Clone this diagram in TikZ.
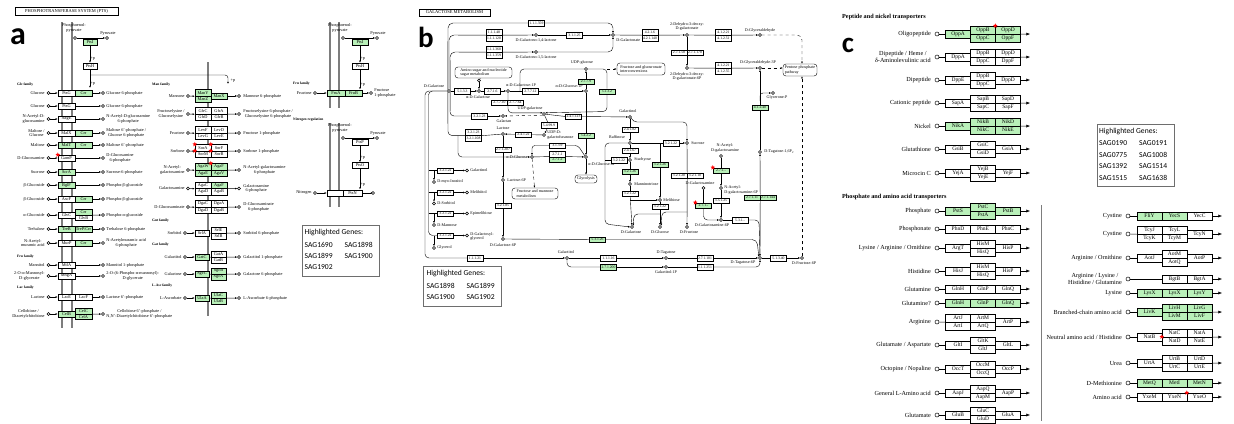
\documentclass[tikz,border=0pt]{standalone}
\usepackage{fontspec}
\setmainfont{Liberation Serif}
\newfontfamily\hgfont{Carlito}
\usetikzlibrary{arrows.meta,shapes.geometric}
\definecolor{kgreen}{RGB}{185,240,185}
\definecolor{mgray}{RGB}{125,125,125}
\definecolor{bgray}{RGB}{110,110,110}
\newcommand\ptsfont{\fontsize{4.3}{4.7}\selectfont}
\newcommand\galfont{\fontsize{4.1}{4.5}\selectfont}
\newcommand\ecfont{\fontsize{3.7}{4}\selectfont}
\newcommand\tspfont{\fontsize{6.2}{6.6}\selectfont}
\newcommand\tspboxfont{\fontsize{5.5}{6}\selectfont}
\newcommand\ttlfont{\fontsize{4.5}{5}\selectfont}
\newcommand\famfont{\fontsize{3.6}{4}\selectfont\bfseries}
\newcommand\hgsize{\hgfont\fontsize{7.6}{8}\selectfont}
\newcommand\letfont{\hgfont\bfseries\fontsize{32}{32}\selectfont}

\begin{document}
\begin{tikzpicture}[x=1pt, y=-1pt, line width=0.4pt,
  arr/.style={-{Latex[length=2.2pt,width=1.8pt]}},
  carr/.style={-{Latex[length=3.6pt,width=3pt]}},
  memb/.style={mgray, line width=1.3pt},
  gene/.style={draw, fill=white, inner sep=0, minimum width=17, minimum height=6, font=\ptsfont},
  hit/.style={gene, fill=kgreen},
  sgene/.style={gene, minimum width=16, minimum height=6.5},
  shit/.style={sgene, fill=kgreen},
  met/.style={circle, draw, fill=white, inner sep=0, minimum size=3},
  ptxt/.style={inner sep=0.2, font=\ptsfont, align=center},
  fam/.style={inner sep=0, font=\famfont, anchor=west},
  ebox/.style={draw, fill=white, inner sep=0, minimum width=16, minimum height=5.5, font=\ecfont},
  ehit/.style={ebox, fill=kgreen},
  btxt/.style={inner sep=0.2, font=\galfont, align=center},
  pbox/.style={draw, rounded corners=3, inner sep=1, align=left, font=\galfont},
  cbox/.style={draw, fill=white, inner sep=0, minimum width=25, minimum height=8, font=\tspboxfont},
  chit/.style={cbox, fill=kgreen},
  cmet/.style={circle, draw, fill=white, inner sep=0, minimum size=4, line width=0.5pt},
  clab/.style={anchor=east, inner sep=0, font=\tspfont, align=center},
  chead/.style={anchor=west, inner sep=0, font=\tspfont\bfseries},
  ttl/.style={draw, inner sep=0, font=\ttlfont},
  letter/.style={inner sep=0, font=\letfont},
  hgbox/.style={draw=bgray, line width=0.9pt, inner sep=0},
  hgtxt/.style={anchor=west, inner sep=0, font=\hgsize},
  rstar/.style={star, star points=5, star point ratio=2.4, fill=red, inner sep=0, minimum size=5}]
\useasboundingbox (0,0) rectangle (1234,423);

% ---------------- panel a: PTS ----------------
\node[ttl, minimum width=103, minimum height=8] (ptsTtl) at (66.5,11) {PHOSPHOTRANSFERASE SYSTEM (PTS)};
\node[letter] (letA) at (18,37) {a};
\draw[memb] (62,22) -- (62,328);
\draw[memb] (72,22) -- (72,328);
\draw[memb] (208,62) -- (208,316);
\draw[memb] (330,22) -- (330,108);
\draw[memb] (339,22) -- (339,108);
\draw[memb] (330,123) -- (330,207);
\draw[memb] (339,123) -- (339,207);

\node[ptxt] (pepL) at (74,28) {Phosphoenol-\\pyruvate};
\node[met] (pep) at (75,38) {};
\node[met] (pyr) at (107,38) {};
\node[ptxt, anchor=south] (pyrL) at (108,36) {Pyruvate};
\draw[arr] (pep) -- (pyr);
\node[hit, minimum width=14] (ptsI) at (90,42) {PtsI};
\node[gene, minimum width=14] (ptsH) at (90,66) {PtsH};
\draw[arr] (ptsI) -- node[ptxt, right, pos=0.75] (pA) {+p} (ptsH);
\coordinate (ptsHd) at (90,88);
\coordinate (ptsHb) at (90,75);
\coordinate (manP) at (228,84);
\draw[arr] (ptsH) -- node[ptxt, right, pos=0.8] (pB) {+p} (ptsHd);
\draw[arr, rounded corners=3] (ptsHb) -- (228,75) -- (manP);
\node[ptxt] (pC) at (233,81) {+p};

\node[fam] (glcF) at (17,85) {Glc family};
% rows
\node[ptxt, anchor=east] (r1s) at (45,93) {Glucose}; \node[met] (r1o) at (48.5,93) {};
\node[gene] (r1a) at (66.5,93) {PtsG}; \node[hit] (r1b) at (83.5,93) {Crr};
\node[met] (r1p) at (103,93) {}; \node[ptxt, anchor=west] (r1t) at (106,93) {Glucose 6-phosphate};
\draw[arr] (r1o) -- (r1a); \draw[arr] (r1b) -- (r1p);

\node[ptxt, anchor=east] (r2s) at (45,106) {Glucose}; \node[met] (r2o) at (48.5,106) {};
\node[gene] (r2a) at (66.5,106) {PtsG};
\node[met] (r2p) at (103,106) {}; \node[ptxt, anchor=west] (r2t) at (106,106) {Glucose 6-phosphate};
\draw[arr] (r2o) -- (r2a); \draw[arr] (r2a) -- (r2p);

\node[ptxt, anchor=east] (r3s) at (45,119) {N-Acetyl-D-\\glucosamine}; \node[met] (r3o) at (48.5,119) {};
\node[gene] (r3a) at (66.5,119) {NagE};
\node[met] (r3p) at (103,119) {}; \node[ptxt, anchor=west] (r3t) at (106,119) {N-Acetyl-D-glucosamine\\6-phosphate};
\draw[arr] (r3o) -- (r3a); \draw[arr] (r3a) -- (r3p);

\node[ptxt, anchor=east] (r4s) at (45,133) {Maltose /\\Glucose}; \node[met] (r4o) at (48.5,133) {};
\node[gene] (r4a) at (66.5,133) {MalX}; \node[hit] (r4b) at (83.5,133) {Crr};
\node[met] (r4p) at (103,133) {}; \node[ptxt, anchor=west] (r4t) at (106,133) {Maltose 6'-phosphate /\\Glucose 6-phosphate};
\draw[arr] (r4o) -- (r4a); \draw[arr] (r4b) -- (r4p);

\node[ptxt, anchor=east] (r5s) at (45,145) {Maltose}; \node[met] (r5o) at (48.5,145) {};
\node[hit] (r5a) at (66.5,145) {MalT}; \node[hit] (r5b) at (83.5,145) {Crr};
\node[met] (r5p) at (103,145) {}; \node[ptxt, anchor=west] (r5t) at (106,145) {Maltose 6'-phosphate};
\draw[arr] (r5o) -- (r5a); \draw[arr] (r5b) -- (r5p);

\node[ptxt, anchor=east] (r6s) at (45,158) {D-Glucosamine}; \node[met] (r6o) at (48.5,158) {};
\node[gene] (r6a) at (66.5,158) {GamP};
\node[met] (r6p) at (103,158) {}; \node[ptxt, anchor=west] (r6t) at (106,158) {D-Glucosamine\\6-phosphate};
\draw[arr] (r6o) -- (r6a); \draw[arr] (r6a) -- (r6p);
\node[rstar] (sA1) at (r6a.north west) {};

\node[ptxt, anchor=east] (r7s) at (45,172) {Sucrose}; \node[met] (r7o) at (48.5,172) {};
\node[hit] (r7a) at (66.5,172) {ScrA};
\node[met] (r7p) at (103,172) {}; \node[ptxt, anchor=west] (r7t) at (106,172) {Sucrose-6-phosphate};
\draw[arr] (r7o) -- (r7a); \draw[arr] (r7a) -- (r7p);

\node[ptxt, anchor=east] (r8s) at (45,185) {β-Glucoside}; \node[met] (r8o) at (48.5,185) {};
\node[hit] (r8a) at (66.5,185) {BglF};
\node[met] (r8p) at (103,185) {}; \node[ptxt, anchor=west] (r8t) at (106,185) {Phospho-β-glucoside};
\draw[arr] (r8o) -- (r8a); \draw[arr] (r8a) -- (r8p);

\node[ptxt, anchor=east] (r9s) at (45,199) {β-Glucoside}; \node[met] (r9o) at (48.5,199) {};
\node[gene] (r9a) at (66.5,199) {AscF}; \node[hit] (r9b) at (83.5,199) {Crr};
\node[met] (r9p) at (103,199) {}; \node[ptxt, anchor=west] (r9t) at (106,199) {Phospho-β-glucoside};
\draw[arr] (r9o) -- (r9a); \draw[arr] (r9b) -- (r9p);

\node[ptxt, anchor=east] (r10s) at (45,215) {α-Glucoside}; \node[met] (r10o) at (48.5,215) {};
\node[gene] (r10a) at (66.5,215) {GlvC};
\node[hit, minimum height=5.5] (r10b) at (83.5,212.2) {Crr}; \node[gene, minimum height=5.5] (r10bb) at (83.5,217.8) {GlvB};
\node[met] (r10p) at (103,215) {}; \node[ptxt, anchor=west] (r10t) at (106,215) {Phospho-α-glucoside};
\draw[arr] (r10o) -- (r10a); \draw[arr] (r10b.south east) -- (r10p);

\node[ptxt, anchor=east] (r11s) at (45,229) {Trehalose}; \node[met] (r11o) at (48.5,229) {};
\node[hit] (r11a) at (66.5,229) {TreB}; \node[hit] (r11b) at (83.5,229) {TreP/Crr};
\node[met] (r11p) at (103,229) {}; \node[ptxt, anchor=west] (r11t) at (106,229) {Trehalose 6-phosphate};
\draw[arr] (r11o) -- (r11a); \draw[arr] (r11b) -- (r11p);

\node[ptxt, anchor=east] (r12s) at (45,243) {N-Acetyl-\\muramic acid}; \node[met] (r12o) at (48.5,243) {};
\node[gene] (r12a) at (66.5,243) {MurP}; \node[hit] (r12b) at (83.5,243) {Crr};
\node[met] (r12p) at (103,243) {}; \node[ptxt, anchor=west] (r12t) at (106,243) {N-Acetylmuramic acid\\6-phosphate};
\draw[arr] (r12o) -- (r12a); \draw[arr] (r12b) -- (r12p);

\node[fam] (fruF) at (17,257) {Fru family};
\node[ptxt, anchor=east] (r13s) at (45,265) {Mannitol}; \node[met] (r13o) at (48.5,265) {};
\node[gene] (r13a) at (66.5,265) {MtlA};
\node[met] (r13p) at (103,265) {}; \node[ptxt, anchor=west] (r13t) at (106,265) {Mannitol 1-phosphate};
\draw[arr] (r13o) -- (r13a); \draw[arr] (r13a) -- (r13p);

\node[ptxt, anchor=east] (r14s) at (45,276) {2-O-α-Mannosyl-\\D-glycerate}; \node[met] (r14o) at (48.5,276) {};
\node[gene] (r14a) at (66.5,276) {MngA};
\node[met] (r14p) at (103,276) {}; \node[ptxt, anchor=west] (r14t) at (106,276) {2-O-(6-Phospho-α-mannosyl)-\\D-glycerate};
\draw[arr] (r14o) -- (r14a); \draw[arr] (r14a) -- (r14p);

\node[fam] (lacF) at (17,288) {Lac family};
\node[ptxt, anchor=east] (r15s) at (45,297) {Lactose}; \node[met] (r15o) at (48.5,297) {};
\node[gene] (r15a) at (66.5,297) {LacE}; \node[gene] (r15b) at (83.5,297) {LacF};
\node[met] (r15p) at (103,297) {}; \node[ptxt, anchor=west] (r15t) at (106,297) {Lactose 6'-phosphate};
\draw[arr] (r15o) -- (r15a); \draw[arr] (r15b) -- (r15p);

\node[ptxt, anchor=east] (r16s) at (45,314) {Cellobiose /\\Diacetylchitobiose}; \node[met] (r16o) at (48.5,314) {};
\node[hit] (r16a) at (66.5,314) {CelB};
\node[hit, minimum height=5.5] (r16b) at (83.5,311.2) {CelC}; \node[hit, minimum height=5.5] (r16bb) at (83.5,316.8) {CelA};
\node[met] (r16p) at (103,314) {}; \node[ptxt, anchor=west] (r16t) at (106,314) {Cellobiose 6'-phosphate /\\N,N'-Diacetylchitobiose 6'-phosphate};
\draw[arr] (r16o) -- (r16a); \draw[arr] (r16b.south east) -- (r16p);

% Man family and others
\node[fam] (manF) at (152,85) {Man family};
\node[ptxt, anchor=east] (m1s) at (185,96) {Mannose}; \node[met] (m1o) at (188,96) {};
\node[shit] (m1a) at (203,92.75) {ManY}; \node[shit] (m1aa) at (203,99.25) {ManZ};
\node[hit, minimum width=16] (m1b) at (219,96) {ManX};
\node[met] (m1p) at (239,96) {}; \node[ptxt, anchor=west] (m1t) at (243,96) {Mannose 6-phosphate};
\draw[arr] (m1o) -- (m1a.south west); \draw[arr] (m1b) -- (m1p);

\node[ptxt, anchor=east] (m2s) at (185,114) {Fructoselysine /\\Glucoselysine}; \node[met] (m2o) at (188,114) {};
\node[sgene] (m2a) at (203,110.75) {GfrC}; \node[sgene] (m2aa) at (203,117.25) {GfrD};
\node[sgene] (m2b) at (219,110.75) {GfrA}; \node[sgene] (m2bb) at (219,117.25) {GfrB};
\node[met] (m2p) at (239,114) {}; \node[ptxt, anchor=west] (m2t) at (243,114) {Fructoselysine 6-phosphate /\\Glucoselysine 6-phosphate};
\draw[arr] (m2o) -- (m2a.south west); \draw[arr] (m2b.south east) -- (m2p);

\node[ptxt, anchor=east] (m3s) at (185,133) {Fructose}; \node[met] (m3o) at (188,133) {};
\node[sgene] (m3a) at (203,129.75) {LevF}; \node[sgene] (m3aa) at (203,136.25) {LevG};
\node[sgene] (m3b) at (219,129.75) {LevD}; \node[sgene] (m3bb) at (219,136.25) {LevE};
\node[met] (m3p) at (239,133) {}; \node[ptxt, anchor=west] (m3t) at (243,133) {Fructose 1-phosphate};
\draw[arr] (m3o) -- (m3a.south west); \draw[arr] (m3b.south east) -- (m3p);

\node[ptxt, anchor=east] (m4s) at (185,151) {Sorbose}; \node[met] (m4o) at (188,151) {};
\node[sgene] (m4a) at (203,147.75) {SorA}; \node[sgene] (m4aa) at (203,154.25) {SorM};
\node[sgene] (m4b) at (219,147.75) {SorF}; \node[sgene] (m4bb) at (219,154.25) {SorB};
\node[met] (m4p) at (239,151) {}; \node[ptxt, anchor=west] (m4t) at (243,151) {Sorbose 1-phosphate};
\draw[arr] (m4o) -- (m4a.south west); \draw[arr] (m4b.south east) -- (m4p);
\node[rstar] (sA2) at (m4a.north west) {}; \node[rstar] (sA3) at (m4aa.north west) {};
\node[rstar] (sA4) at (m4b.north west) {}; \node[rstar] (sA5) at (m4bb.north west) {};

\node[ptxt, anchor=east] (m5s) at (185,170) {N-Acetyl-\\galactosamine}; \node[met] (m5o) at (188,170) {};
\node[shit] (m5a) at (203,166.75) {AgaW}; \node[shit] (m5aa) at (203,173.25) {AgaE};
\node[shit] (m5b) at (219,166.75) {AgaF}; \node[shit] (m5bb) at (219,173.25) {AgaV};
\node[met] (m5p) at (239,170) {}; \node[ptxt, anchor=west] (m5t) at (243,170) {N-Acetyl-galactosamine\\6-phosphate};
\draw[arr] (m5o) -- (m5a.south west); \draw[arr] (m5b.south east) -- (m5p);
\node[rstar] (sA6) at (m5b.north west) {};

\node[ptxt, anchor=east] (m6s) at (185,188.5) {Galactosamine}; \node[met] (m6o) at (188,188.5) {};
\node[sgene] (m6a) at (203,185.25) {AgaC}; \node[sgene] (m6aa) at (203,191.75) {AgaD};
\node[shit] (m6b) at (219,185.25) {AgaF}; \node[sgene] (m6bb) at (219,191.75) {AgaB};
\node[met] (m6p) at (239,188.5) {}; \node[ptxt, anchor=west] (m6t) at (243,188.5) {Galactosamine\\6-phosphate};
\draw[arr] (m6o) -- (m6a.south west); \draw[arr] (m6b.south east) -- (m6p);

\node[ptxt, anchor=east] (m7s) at (185,207) {D-Glucosaminate}; \node[met] (m7o) at (188,207) {};
\node[sgene] (m7a) at (203,203.75) {DgaC}; \node[sgene] (m7aa) at (203,210.25) {DgaD};
\node[sgene] (m7b) at (219,203.75) {DgaA}; \node[sgene] (m7bb) at (219,210.25) {DgaB};
\node[met] (m7p) at (239,207) {}; \node[ptxt, anchor=west] (m7t) at (243,207) {D-Glucosaminate\\6-phosphate};
\draw[arr] (m7o) -- (m7a.south west); \draw[arr] (m7b.south east) -- (m7p);

\node[fam] (gutF) at (152,221) {Gut family};
\node[ptxt, anchor=east] (m8s) at (182,233) {Sorbitol}; \node[met] (m8o) at (185,233) {};
\node[gene, minimum width=14] (m8a) at (202,233) {SrlA};
\node[gene, minimum width=15, minimum height=6] (m8b) at (218.5,230) {SrlE}; \node[gene, minimum width=15] (m8bb) at (218.5,236) {SrlB};
\node[met] (m8p) at (239,233) {}; \node[ptxt, anchor=west] (m8t) at (243,233) {Sorbitol 6-phosphate};
\draw[arr] (m8o) -- (m8a); \draw (m8a) -- (m8b.south west); \draw[arr] (m8b.south east) -- (m8p);

\node[fam] (gatF) at (152,245) {Gat family};
\node[ptxt, anchor=east] (m9s) at (182,257) {Galactitol}; \node[met] (m9o) at (185,257) {};
\node[hit, minimum width=14] (m9a) at (202,257) {GatC};
\node[gene, minimum width=15] (m9b) at (218.5,254) {GatA}; \node[gene, minimum width=15] (m9bb) at (218.5,260) {GatB};
\node[met] (m9p) at (239,257) {}; \node[ptxt, anchor=west] (m9t) at (243,257) {Galactitol 1-phosphate};
\draw[arr] (m9o) -- (m9a); \draw (m9a) -- (m9b.south west); \draw[arr] (m9b.south east) -- (m9p);

\node[ptxt, anchor=east] (m10s) at (182,274) {Galactose}; \node[met] (m10o) at (185,274) {};
\node[hit, minimum width=14] (m10a) at (202,274) {SgcC};
\node[hit, minimum width=15] (m10b) at (218.5,271) {SgcB}; \node[hit, minimum width=15] (m10bb) at (218.5,277) {SgcA};
\node[met] (m10p) at (239,274) {}; \node[ptxt, anchor=west] (m10t) at (243,274) {Galactose 6-phosphate};
\draw[arr] (m10o) -- (m10a); \draw (m10a) -- (m10b.south west); \draw[arr] (m10b.south east) -- (m10p);

\node[fam] (ascF) at (152,286) {L-Asc family};
\node[ptxt, anchor=east] (m11s) at (182,298) {L-Ascorbate}; \node[met] (m11o) at (185,298) {};
\node[hit, minimum width=14] (m11a) at (202,298) {UlaA};
\node[hit, minimum width=15] (m11b) at (218.5,295) {UlaC}; \node[hit, minimum width=15] (m11bb) at (218.5,301) {UlaB};
\node[met] (m11p) at (239,298) {}; \node[ptxt, anchor=west] (m11t) at (243,298) {L-Ascorbate 6-phosphate};
\draw[arr] (m11o) -- (m11a); \draw (m11a) -- (m11b.south west); \draw[arr] (m11b.south east) -- (m11p);

% Fru family block
\node[ptxt] (pep2L) at (340,28) {Phosphoenol-\\pyruvate};
\node[met] (pep2) at (343,38) {}; \node[met] (pyr2) at (377,38) {};
\node[ptxt, anchor=south] (pyr2L) at (378,36) {Pyruvate};
\draw[arr] (pep2) -- (pyr2);
\node[hit, minimum width=16] (ptsI2) at (360,42) {PtsI};
\node[gene, minimum width=16] (ptsH2) at (360,66) {PtsH};
\coordinate (fruP) at (360,89.5);
\draw[arr] (ptsI2) -- node[ptxt, right, pos=0.75] (pD) {+p} (ptsH2);
\draw[arr] (ptsH2) -- node[ptxt, right, pos=0.75] (pE) {+p} (fruP);
\node[fam] (fru2F) at (293,84) {Fru family};
\node[ptxt, anchor=east] (f1s) at (312,93) {Fructose}; \node[met] (f1o) at (315,93) {};
\node[hit, minimum width=18] (f1a) at (336,93) {FruA}; \node[hit, minimum width=17] (f1b) at (353.5,93) {FruB};
\node[met] (f1p) at (371,93) {}; \node[ptxt, anchor=west, align=left] (f1t) at (374,93) {Fructose\\1-phosphate};
\draw[arr] (f1o) -- (f1a); \draw[arr] (f1b) -- (f1p);

\node[fam] (nitF) at (293,120) {Nitrogen regulation};
\node[ptxt] (pep3L) at (340,128) {Phosphoenol-\\pyruvate};
\node[met] (pep3) at (343,138) {}; \node[met] (pyr3) at (377,138) {};
\node[ptxt, anchor=south] (pyr3L) at (378,136) {Pyruvate};
\draw[arr] (pep3) -- (pyr3);
\node[gene, minimum width=16] (ptsP) at (360,142) {PtsP};
\node[gene, minimum width=16] (ptsO) at (360,165.5) {PtsO};
\coordinate (nitP) at (360,189.5);
\draw[arr] (ptsP) -- node[ptxt, right, pos=0.75] (pF) {+p} (ptsO);
\draw[arr] (ptsO) -- node[ptxt, right, pos=0.75] (pG) {+p} (nitP);
\node[ptxt, anchor=east] (n1s) at (312,193) {Nitrogen}; \node[met] (n1o) at (315,193) {};
\node[gene, minimum width=16] (n1a) at (335,193) {}; \node[gene, minimum width=19] (n1b) at (352.5,193) {PtsN};
\coordinate (n1p) at (373,193);
\draw[arr] (n1o) -- (n1a); \draw[arr] (n1b) -- (n1p);
\node[met] (n1q) at (n1p) {};

\node[hgbox, minimum width=77, minimum height=51] (hgA) at (340.5,250.5) {};
\node[hgtxt] (hgA0) at (304.5,232.5) {Highlighted Genes:};
\node[hgtxt] (hgA1) at (304.5,244.5) {SAG1690}; \node[hgtxt] (hgA2) at (344.5,244.5) {SAG1898};
\node[hgtxt] (hgA3) at (304.5,256) {SAG1899}; \node[hgtxt] (hgA4) at (344.5,256) {SAG1900};
\node[hgtxt] (hgA5) at (304.5,267.5) {SAG1902};

% ---------------- panel b: galactose metabolism ----------------
\node[ttl, minimum width=71, minimum height=7] (galTtl) at (454.5,12.5) {GALACTOSE METABOLISM};
\node[letter, font=\hgfont\bfseries\fontsize{29}{29}\selectfont] (letB) at (426,37) {b};

\node[met] (gal) at (449,91) {}; \node[btxt] (galL) at (434,86) {D-Galactose};
\node[met] (agal) at (479,91) {}; \node[btxt] (agalL) at (478,97.5) {α-D-Galactose};
\node[pbox, minimum width=57, minimum height=11] (aminoBox) at (483.5,72.5) {Amino sugar and nucleotide\\sugar metabolism};
\node[met] (amc) at (479,80.5) {};
\node[met] (agal1p) at (508,91) {}; \node[btxt] (agal1pL) at (521,85.5) {α-D-Galactose-1P};
\node[met] (aglc1p) at (586,91) {}; \node[btxt, anchor=east] (aglc1pL) at (583,86.5) {α-D-Glucose-1P};
\node[met] (udpglc) at (586,69) {}; \node[btxt] (udpglcL) at (582,63) {UDP-glucose};
\node[met] (udpgal) at (544,114) {}; \node[btxt] (udpgalL) at (530,108.5) {UDP-galactose};
\node[met] (udpgalf) at (544,135) {}; \node[btxt, anchor=west, align=left] (udpgalfL) at (547,135) {UDP-D-\\galactofuranose};
\node[met] (galactan) at (503,116) {}; \node[btxt] (galactanL) at (504,121.5) {Galactan};
\node[met] (lactose) at (503,134) {}; \node[btxt] (lactoseL) at (503,128.5) {Lactose};
\node[met] (lac6p) at (503,180) {}; \node[btxt, anchor=west] (lac6pL) at (507,180) {Lactose-6P};
\node[met] (gal6p) at (503,239) {}; \node[btxt] (gal6pL) at (503,245) {D-Galactose-6P};
\node[met] (aglc) at (532,157) {}; \node[btxt, anchor=east] (aglcL) at (528,157) {α-D-Glucose};
\node[met] (aglc6p) at (586,157) {}; \node[btxt, anchor=west] (aglc6pL) at (588,164.5) {α-D-Glucose-6P};
\node[pbox, minimum width=22, minimum height=8] (glyBox) at (586,179) {Glycolysis};
\node[pbox, minimum width=46, minimum height=11] (fmBox) at (535,193.5) {Fructose and mannose\\metabolism};
\node[met] (dgl14) at (536,35) {}; \node[btxt] (dgl14L) at (536,40.5) {D-Galactono-1,4-lactone};
\node[met] (dgl15) at (536,52) {}; \node[btxt] (dgl15L) at (536,57.5) {D-Galactono-1,5-lactone};
\node[met] (galnt) at (613,35) {}; \node[btxt, anchor=west] (galntL) at (616,40) {D-Galactonate};
\node[met] (kdg) at (687,35) {}; \node[btxt] (kdgL) at (687,26.5) {2-Dehydro-3-deoxy-\\D-galactonate};
\node[met] (gah) at (760,35) {}; \node[btxt] (gahL) at (760,30.5) {D-Glyceraldehyde};
\node[met] (kdg6p) at (687,68) {}; \node[btxt] (kdg6pL) at (687,76.5) {2-Dehydro-3-deoxy-\\D-galactonate-6P};
\node[met] (gah3p) at (760,68) {}; \node[btxt] (gah3pL) at (758,63) {D-Glyceraldehyde-3P};
\node[pbox, minimum width=34, minimum height=12] (pppBox) at (800,70) {Pentose phosphate\\pathway};
\node[pbox, minimum width=48, minimum height=12] (fgBox) at (641,69) {Fructose and glucuronate\\interconversions};
\node[met] (gnp) at (773,93) {}; \node[btxt] (gnpL) at (777,98) {Glycerone-P};
\node[met] (tag16p) at (760,152) {}; \node[btxt, anchor=west] (tag16pL) at (764,152) {D-Tagatose-1,6P\textsubscript{2}};
\node[met] (tag6p) at (760,258) {}; \node[btxt] (tag6pL) at (743,263) {D-Tagatose-6P};
\node[met] (fru6p) at (802,258) {}; \node[btxt] (fru6pL) at (804,263.5) {D-Fructose-6P};
\node[met] (tagt) at (666,258) {}; \node[btxt] (tagtL) at (666,252.5) {D-Tagatose};
\node[met] (gtol1p) at (666,267) {}; \node[btxt] (gtol1pL) at (666,272.5) {Galactitol-1P};
\node[met] (gtol) at (567,258) {}; \node[btxt] (gtolL) at (566,252.5) {Galactitol};
\node[met] (ginol) at (630,117) {}; \node[btxt] (ginolL) at (628,111.5) {Galactinol};
\node[met] (raff) at (630,143) {}; \node[btxt] (raffL) at (617,137.5) {Raffinose};
\node[met] (sucr) at (687,143) {}; \node[btxt, anchor=west] (sucrL) at (691,143) {Sucrose};
\node[met] (stach) at (630,160) {}; \node[btxt, anchor=west] (stachL) at (634,160) {Stachyose};
\node[met] (mtri) at (630,184) {}; \node[btxt, anchor=west] (mtriL) at (634,184) {Manninotriose};
\node[met] (melib) at (660,200) {}; \node[btxt, anchor=west] (melibL) at (663,200) {Melibiose};
\node[met] (dgal) at (632,227) {}; \node[btxt] (dgalL) at (631,232.5) {D-Galactose};
\node[met] (dglc) at (660,227) {}; \node[btxt] (dglcL) at (660,232.5) {D-Glucose};
\node[met] (dfru) at (687,227) {}; \node[btxt] (dfruL) at (689,232.5) {D-Fructose};
\node[met] (galnac) at (721,156) {}; \node[btxt] (galnacL) at (725,148) {N-Acetyl-\\D-galactosamine};
\node[met] (galnac6p) at (721,188) {}; \node[btxt, anchor=west, align=left] (galnac6pL) at (724,190) {N-Acetyl-\\D-galactosamine-6P};
\node[met] (galn) at (703.5,188) {}; \node[btxt] (galnL) at (700,183) {D-Galactosamine};
\node[met] (galn6p) at (721,220) {}; \node[btxt] (galn6pL) at (712,225.5) {D-Galactosamine-6P};
\node[met] (galinl) at (467,170.5) {}; \node[btxt, anchor=west] (galinlL) at (470,170.5) {Galactinol};
\node[met] (myoi) at (434,182) {}; \node[btxt, anchor=west] (myoiL) at (437,182) {D-myo-Inositol};
\node[met] (melbt) at (467,192.5) {}; \node[btxt, anchor=west] (melbtL) at (470,192.5) {Melibiitol};
\node[met] (sorb) at (434,203.5) {}; \node[btxt, anchor=west] (sorbL) at (437,203.5) {D-Sorbitol};
\node[met] (epim) at (467,213.5) {}; \node[btxt, anchor=west] (epimL) at (470,213.5) {Epimelibiose};
\node[met] (dman) at (434,225) {}; \node[btxt, anchor=west] (dmanL) at (437,225) {D-Mannose};
\node[met] (galgly) at (467,235.5) {}; \node[btxt, anchor=west, align=left] (galglyL) at (470,236.5) {D-Galactosyl-\\glycerol};
\node[met] (glyc) at (434,248) {}; \node[btxt, anchor=west] (glycL) at (437,248) {Glycerol};

% enzymes
\node[ebox] (e1top) at (536.5,23) {1.1.1.359};
\node[ebox, minimum height=6] (e11148) at (494,32) {1.1.1.48}; \node[ebox, minimum height=6] (e111120) at (494,38) {1.1.1.120};
\node[ebox, minimum height=6] (e111360) at (494,49) {1.1.1.360}; \node[ebox, minimum height=6] (e111359) at (494,55) {1.1.1.359};
\node[ebox] (e31125) at (574.5,35) {3.1.1.25};
\node[ebox] (e5133) at (462.5,91) {5.1.3.3};
\node[ebox] (e2716) at (492.5,91) {2.7.1.6};
\node[ebox] (e27712) at (530.5,91) {2.7.7.12};
\node[ebox] (e27710) at (499.5,102.5) {2.7.7.10}; \node[ebox] (e27764) at (515.5,102.5) {2.7.7.64};
\node[ehit] (e2779) at (586,81.5) {2.7.7.9};
\node[ehit] (e5132) at (607,91.5) {5.1.3.2};
\node[ehit] (e5422) at (586,135.5) {5.4.2.2};
\node[ebox] (e32123) at (479.5,116) {3.2.1.23};
\node[ebox] (e241123) at (573.5,116.5) {2.4.1.123};
\node[ebox] (e54999) at (549,125) {5.4.99.9};
\node[ebox] (e24122) at (523.5,134.5) {2.4.1.22};
\node[ebox, minimum height=6] (e32123b) at (473.5,132.5) {3.2.1.23}; \node[ebox, minimum height=6] (e321108) at (473.5,138.5) {3.2.1.108};
\node[ebox] (e271207) at (503,149.5) {2.7.1.207};
\node[ebox] (e32185) at (503,205.5) {3.2.1.85};
\node[ebox] (e3139) at (557.5,145.5) {3.1.3.9};
\node[ebox] (e2711) at (557.5,154) {2.7.1.1}; \node[ehit] (e2712) at (557.5,159.5) {2.7.1.2};
\node[ebox] (e32122a) at (445.5,170.5) {3.2.1.22};
\node[ebox] (e32122b) at (445.5,192.5) {3.2.1.22};
\node[ebox] (e32122c) at (445.5,213.5) {3.2.1.22};
\node[ebox] (e32122d) at (445.5,235.5) {3.2.1.22};
\node[ebox] (e11121) at (475,258) {1.1.1.21};
\node[ebox] (e11116) at (608.5,258) {1.1.1.16};
\node[ehit] (e271200) at (608.5,267) {2.7.1.200};
\node[ebox] (e271101) at (705,258) {2.7.1.101};
\node[ebox] (e111251) at (705,267) {1.1.1.251};
\node[ebox] (e51340) at (778.5,258) {5.1.3.40};
\node[ebox, minimum height=6] (e4216) at (650,32) {4.2.1.6}; \node[ebox, minimum height=6] (e421140) at (650,38) {4.2.1.140};
\node[ebox, minimum height=6] (e41221) at (723.5,32) {4.1.2.21}; \node[ebox, minimum height=6] (e41251) at (723.5,38) {4.1.2.51};
\node[ebox] (e27158) at (679,52.5) {2.7.1.58}; \node[ebox] (e271178) at (695,52.5) {2.7.1.178};
\node[ebox, minimum height=6] (e41221b) at (723.5,65) {4.1.2.21}; \node[ebox, minimum height=6] (e41255) at (723.5,71) {4.1.2.55};
\node[ehit] (e41240) at (760,107.5) {4.1.2.40};
\node[ehit] (e27111) at (752,197.5) {2.7.1.11}; \node[ehit] (e271144) at (768,197.5) {2.7.1.144};
\node[ebox] (e35125) at (721,200.5) {3.5.1.25};
\node[ehit] (e2710a) at (721,170.5) {2.7.1.-};
\node[ehit] (e2710b) at (703.5,205.5) {2.7.1.-};
\node[rstar] (sB1) at (e2710a.north west) {}; \node[rstar] (sB2) at (e2710b.north west) {};
\node[ebox] (e531x) at (740,220) {5.3.1.-};
\node[ebox] (e24182) at (630,129.5) {2.4.1.82};
\node[ebox] (e24167) at (630,150.5) {2.4.1.67};
\node[ebox] (e32122e) at (671,143) {3.2.1.22};
\node[ebox] (e32122f) at (619,160) {3.2.1.22};
\node[ehit] (e32126a) at (660,164.5) {3.2.1.26};
\node[ehit] (e32126b) at (630,171.5) {3.2.1.26};
\node[ebox] (e32122g) at (630,193.5) {3.2.1.22};
\node[ebox] (e32122h) at (660,206.5) {3.2.1.22};
\node[ebox] (e32120) at (679,175.5) {3.2.1.20}; \node[ebox] (e32110) at (695,175.5) {3.2.1.10};
\node[ehit] (e53126) at (597.5,239.5) {5.3.1.26};

% D-galactose hub
\draw[rounded corners=5] (gal.north west) -- (448,23) -- (e1top.west);
\draw[arr, rounded corners=5] (e1top.east) -- (613,23) -- (galnt.north);
\draw[rounded corners=5] (gal.north) -- (449,35) -- (e11148.south west);
\draw[arr] (e11148.south east) -- (dgl14);
\draw (dgl14) -- (e31125); \draw[arr] (e31125) -- (galnt);
\draw[rounded corners=5] (gal.north east) -- (450,52) -- (e111360.south west);
\draw[arr] (e111360.south east) -- (dgl15);
\draw[arr, rounded corners=5] (dgl15) -- (613,52) -- (galnt.south);
\draw (gal) -- (e5133); \draw[arr] (e5133) -- (agal);
\draw (agal) -- (e2716); \draw[arr] (e2716) -- (agal1p);
\draw (agal1p) -- (e27712); \draw[arr] (e27712) -- (aglc1p);
\draw (aminoBox) -- (amc); \draw[arr] (amc) -- (agal);
\draw[arr, rounded corners=4] (agal1p.south) -- (508,112.9) -- (udpgal.north west);
\coordinate (ugj) at (520,91);
\draw[rounded corners=4] (udpglc.west) -- (520,69) -- (ugj);
\draw (aglc1p) -- (e2779); \draw[arr] (e2779) -- (udpglc);
\draw (aglc1p) -- (e5422); \draw[arr] (e5422) -- (aglc6p);
\draw[arr] (aglc6p) -- (glyBox);
\coordinate (lpc) at (607,69);
\draw[rounded corners=4] (udpglc.east) -- (lpc) -- (e5132.north);
\draw[arr, rounded corners=4] (e5132.south) -- (607,111.5) -- (udpgal.north east);
\draw[dashed, arr] (lpc) -- (fgBox.west);
\draw[rounded corners=4] (gal.south east) -- (450,116) -- (e32123.west);
\draw[arr] (e32123) -- (galactan);
\draw[dashed, arr] (udpgal.south west) -- (galactan);
\draw (udpgal) -- (e241123.west); \draw[arr] (e241123.east) -- (ginol);
\draw (udpgal) -- (e54999); \draw[arr] (e54999) -- (udpgalf);
\draw (udpgalf) -- (e24122); \draw[arr] (e24122) -- (lactose);
\draw[rounded corners=4] (gal.south west) -- (448,135.5) -- (e32123b.south west);
\draw (e32123b.south east) -- (lactose);
\coordinate (lacbr) at (458,135.5);
\draw[arr, rounded corners=4] (lacbr) -- (458,157) -- (aglc);
\draw (lactose) -- (e271207); \draw[arr] (e271207) -- (lac6p);
\draw (lac6p) -- (e32185); \draw[arr] (e32185) -- (gal6p);
\draw (gal6p) -- (e53126);
\draw[arr, rounded corners=5] (e53126) -- (757,239.5) -- (tag6p.north west);
\draw (aglc) -- (e2712.north west); \draw[arr] (e2712.north east) -- (aglc6p);
\draw[rounded corners=3] (aglc6p.north west) -- (578,145.5) -- (e3139.east);
\draw[arr, rounded corners=3] (e3139.west) -- (532,145.5) -- (aglc.north);
\draw[dashed, arr] (aglc) -- (fmBox);
% left side
\draw[rounded corners=4] (gal.west) -- (425,91) -- (425,258) -- (e11121.west);
\draw[arr] (e11121) -- (gtol);
\draw[rounded corners=4] (gal.west) -- (428.5,91) -- (428.5,235.5) -- (e32122d.west);
\coordinate (lbA) at (428.5,170.5); \coordinate (lbB) at (428.5,192.5); \coordinate (lbC) at (428.5,213.5);
\draw (lbA) -- (e32122a); \draw (lbB) -- (e32122b); \draw (lbC) -- (e32122c);
\draw[arr] (e32122a) -- (galinl); \draw[arr] (e32122b) -- (melbt);
\draw[arr] (e32122c) -- (epim); \draw[arr] (e32122d) -- (galgly);
\coordinate (ldA) at (434,170.5); \coordinate (ldB) at (434,192.5); \coordinate (ldC) at (434,213.5); \coordinate (ldD) at (434,235.5);
\draw[arr] (ldA) -- (myoi); \draw[arr] (ldB) -- (sorb); \draw[arr] (ldC) -- (dman); \draw[arr] (ldD) -- (glyc);
% galactitol and tagatose
\draw (gtol) -- (e11116); \draw[arr] (e11116) -- (tagt);
\draw (tagt) -- (e271101); \draw[arr] (e271101) -- (tag6p);
\draw[rounded corners=4] (gtol.south) -- (567,267) -- (e271200.west);
\draw[arr] (e271200) -- (gtol1p);
\draw (gtol1p) -- (e111251);
\draw[arr, rounded corners=4] (e111251.east) -- (760,267) -- (tag6p.south);
\draw (tag6p) -- (e51340); \draw[arr] (e51340) -- (fru6p);
\draw (tag6p) -- (e27111.south east); \draw[arr] (e27111.north east) -- (tag16p);
\draw (tag16p) -- (e41240); \draw[arr] (e41240) -- (gah3p);
\coordinate (gnpBr) at (760,101);
\draw[arr, rounded corners=3] (gnpBr) -- (760,93) -- (gnp);
% galactonate branch
\draw (galnt) -- (e4216.south west); \draw[arr] (e4216.south east) -- (kdg);
\draw (kdg) -- (e41221.south west); \draw[arr] (e41221.south east) -- (gah);
\draw[arr] (kdg) -- (kdg6p);
\draw (kdg6p) -- (e41221b.south west); \draw[arr] (e41221b.south east) -- (gah3p);
\draw[dashed, arr, rounded corners=5] (gah) -- (802,35) -- (pppBox.north -| fru6p);
\draw[dashed, arr] (gah3p) -- (gah3p -| pppBox.west);
\draw[dashed, arr] (fru6p) -- (fru6p |- pppBox.south);
% galactosamine
\draw (galnac) -- (e2710a); \draw[arr] (e2710a) -- (galnac6p);
\draw (galnac6p) -- (e35125); \draw[arr] (e35125) -- (galn6p);
\draw (galn) -- (e2710b); \draw[arr, rounded corners=4] (e2710b.south) -- (703.5,220) -- (galn6p.west);
\draw (galn6p) -- (e531x); \draw[arr, rounded corners=4] (e531x.east) -- (759,220) -- (tag6p.north);
% raffinose family
\draw (ginol) -- (e24182); \draw[arr] (e24182) -- (raff);
\draw (raff) -- (e24167); \draw[arr] (e24167) -- (stach);
\draw (stach) -- (e32126b); \draw[arr] (e32126b) -- (mtri);
\draw (mtri) -- (e32122g); \draw[arr] (e32122g) -- (dgal);
\coordinate (mtriBr) at (630,200);
\draw[arr] (mtriBr) -- (melib);
\draw (raff) -- (e32122e); \draw[arr] (e32122e) -- (sucr);
\coordinate (raffBr) at (660,143);
\draw (raffBr) -- (e32126a); \draw[arr] (e32126a) -- (melib);
\draw[arr, rounded corners=4] (ginol.south east) -- (633,122) -- (687,122) -- (sucr.north);
\draw (sucr) -- (e32120.north east); \draw[arr] (e32120.south east) -- (dfru);
\coordinate (sucBr) at (687,212);
\draw[arr, rounded corners=4] (sucBr) -- (662,212) -- (dglc.north east);
\draw (melib) -- (e32122h); \draw[arr] (e32122h) -- (dglc);
\coordinate (melBr) at (660,214);
\draw[arr, rounded corners=4] (melBr) -- (634,214) -- (dgal.north east);
\draw[arr, rounded corners=4] (raff.west) -- (605,143) -- (605,224) -- (dgal.west);
\coordinate (stachBr) at (605,160);
\draw (stach) -- (e32122f); \draw (e32122f) -- (stachBr);

\node[hgbox, minimum width=78, minimum height=40] (hgB) at (462,286) {};
\node[hgtxt] (hgB0) at (426.5,274) {Highlighted Genes:};
\node[hgtxt] (hgB1) at (426.5,285.5) {SAG1898}; \node[hgtxt] (hgB2) at (466.5,285.5) {SAG1899};
\node[hgtxt] (hgB3) at (426.5,297) {SAG1900}; \node[hgtxt] (hgB4) at (466.5,297) {SAG1902};

% ---------------- panel c: ABC transporters ----------------
\node[chead] (pepHd) at (842,17) {Peptide and nickel transporters};
\node[letter, font=\hgfont\bfseries\fontsize{29}{29}\selectfont] (letC) at (848,45) {c};

\node[clab] (p1l) at (931,34) {Oligopeptide}; \node[cmet] (p1o) at (937,34) {};
\node[chit] (p1a) at (958,34) {OppA}; \node[chit] (p1b) at (983,30) {OppB}; \node[chit] (p1bb) at (983,38) {OppC};
\node[chit] (p1c) at (1008,30) {OppD}; \node[chit] (p1cc) at (1008,38) {OppF}; \coordinate (p1e) at (1030,34);
\draw (p1o) -- (p1a); \draw[carr] (p1c.south east) -- (p1e);
\node[rstar] (sC1) at (p1c.north west) {};

\node[clab] (p2l) at (931,57) {Dipeptide / Heme /\\δ-Aminolevulinic acid}; \node[cmet] (p2o) at (937,57) {};
\node[cbox] (p2a) at (958,57) {DppA}; \node[cbox] (p2b) at (983,53) {DppB}; \node[cbox] (p2bb) at (983,61) {DppC};
\node[cbox] (p2c) at (1008,53) {DppD}; \node[cbox] (p2cc) at (1008,61) {DppF}; \coordinate (p2e) at (1030,57);
\draw (p2o) -- (p2a); \draw[carr] (p2c.south east) -- (p2e);

\node[clab] (p3l) at (931,80) {Dipeptide}; \node[cmet] (p3o) at (937,80) {};
\node[cbox] (p3a) at (958,80) {DppE}; \node[cbox] (p3b) at (983,76) {DppB}; \node[cbox] (p3bb) at (983,84) {DppC};
\node[cbox] (p3c) at (1008,80) {DppD}; \coordinate (p3e) at (1030,80);
\draw (p3o) -- (p3a); \draw[carr] (p3c) -- (p3e);

\node[clab] (p4l) at (931,103) {Cationic peptide}; \node[cmet] (p4o) at (937,103) {};
\node[cbox] (p4a) at (958,103) {SapA}; \node[cbox] (p4b) at (983,99) {SapB}; \node[cbox] (p4bb) at (983,107) {SapC};
\node[cbox] (p4c) at (1008,99) {SapD}; \node[cbox] (p4cc) at (1008,107) {SapF}; \coordinate (p4e) at (1030,103);
\draw (p4o) -- (p4a); \draw[carr] (p4c.south east) -- (p4e);

\node[clab] (p5l) at (931,126) {Nickel}; \node[cmet] (p5o) at (937,126) {};
\node[chit] (p5a) at (958,126) {NikA}; \node[chit] (p5b) at (983,122) {NikB}; \node[chit] (p5bb) at (983,130) {NikC};
\node[chit] (p5c) at (1008,122) {NikD}; \node[chit] (p5cc) at (1008,130) {NikE}; \coordinate (p5e) at (1030,126);
\draw (p5o) -- (p5a); \draw[carr] (p5c.south east) -- (p5e);

\node[clab] (p6l) at (931,149) {Glutathione}; \node[cmet] (p6o) at (937,149) {};
\node[cbox] (p6a) at (958,149) {GsiB}; \node[cbox] (p6b) at (983,145) {GsiC}; \node[cbox] (p6bb) at (983,153) {GsiD};
\node[cbox] (p6c) at (1008,149) {GsiA}; \coordinate (p6e) at (1030,149);
\draw (p6o) -- (p6a); \draw[carr] (p6c) -- (p6e);

\node[clab] (p7l) at (931,173) {Microcin C}; \node[cmet] (p7o) at (937,173) {};
\node[cbox] (p7a) at (958,173) {YejA}; \node[cbox] (p7b) at (983,169) {YejB}; \node[cbox] (p7bb) at (983,177) {YejE};
\node[cbox] (p7c) at (1008,173) {YejF}; \coordinate (p7e) at (1030,173);
\draw (p7o) -- (p7a); \draw[carr] (p7c) -- (p7e);

\node[hgbox, minimum width=77, minimum height=62] (hgC) at (1135.5,155) {};
\node[hgtxt] (hgC0) at (1099,131.5) {Highlighted Genes:};
\node[hgtxt] (hgC1) at (1099,143.2) {SAG0190}; \node[hgtxt] (hgC2) at (1139,143.2) {SAG0191};
\node[hgtxt] (hgC3) at (1099,154.8) {SAG0775}; \node[hgtxt] (hgC4) at (1139,154.8) {SAG1008};
\node[hgtxt] (hgC5) at (1099,166.2) {SAG1392}; \node[hgtxt] (hgC6) at (1139,166.2) {SAG1514};
\node[hgtxt] (hgC7) at (1099,177.7) {SAG1515}; \node[hgtxt] (hgC8) at (1139,177.7) {SAG1638};

\node[chead] (aaHd) at (842,197) {Phosphate and amino acid transporters};
\draw[mgray, line width=0.6pt] (1041,205) -- (1041,421);

\node[clab] (p8l) at (931,211) {Phosphate}; \node[cmet] (p8o) at (937,211) {};
\node[chit] (p8a) at (958,211) {PstS}; \node[chit] (p8b) at (983,207) {PstC}; \node[chit] (p8bb) at (983,215) {PstA};
\node[chit] (p8c) at (1008,211) {PstB}; \coordinate (p8e) at (1030,211);
\draw (p8o) -- (p8a); \draw[carr] (p8c) -- (p8e);

\node[clab] (p9l) at (931,229) {Phosphonate}; \node[cmet] (p9o) at (937,229) {};
\node[cbox] (p9a) at (958,229) {PhnD}; \node[cbox] (p9b) at (983,229) {PhnE}; \node[cbox] (p9c) at (1008,229) {PhnC};
\coordinate (p9e) at (1030,229);
\draw (p9o) -- (p9a); \draw[carr] (p9c) -- (p9e);

\node[clab] (p10l) at (931,248) {Lysine / Arginine / Ornithine}; \node[cmet] (p10o) at (937,248) {};
\node[cbox] (p10a) at (958,248) {ArgT}; \node[cbox] (p10b) at (983,244) {HisM}; \node[cbox] (p10bb) at (983,252) {HisQ};
\node[cbox] (p10c) at (1008,248) {HisP}; \coordinate (p10e) at (1030,248);
\draw (p10o) -- (p10a); \draw[carr] (p10c) -- (p10e);

\node[clab] (p11l) at (931,271) {Histidine}; \node[cmet] (p11o) at (937,271) {};
\node[cbox] (p11a) at (958,271) {HisJ}; \node[cbox] (p11b) at (983,267) {HisM}; \node[cbox] (p11bb) at (983,275) {HisQ};
\node[cbox] (p11c) at (1008,271) {HisP}; \coordinate (p11e) at (1030,271);
\draw (p11o) -- (p11a); \draw[carr] (p11c) -- (p11e);

\node[clab] (p12l) at (931,289) {Glutamine}; \node[cmet] (p12o) at (937,289) {};
\node[cbox] (p12a) at (958,289) {GlnH}; \node[cbox] (p12b) at (983,289) {GlnP}; \node[cbox] (p12c) at (1008,289) {GlnQ};
\coordinate (p12e) at (1030,289);
\draw (p12o) -- (p12a); \draw[carr] (p12c) -- (p12e);

\node[clab] (p13l) at (931,303) {Glutamine?}; \node[cmet] (p13o) at (937,303) {};
\node[chit] (p13a) at (958,303) {GlnH}; \node[chit] (p13b) at (983,303) {GlnP}; \node[chit] (p13c) at (1008,303) {GlnQ};
\coordinate (p13e) at (1030,303);
\draw (p13o) -- (p13a); \draw[carr] (p13c) -- (p13e);

\node[clab] (p14l) at (931,322) {Arginine}; \node[cmet] (p14o) at (937,322) {};
\node[cbox] (p14a) at (958,318) {ArtJ}; \node[cbox] (p14aa) at (958,326) {ArtI};
\node[cbox] (p14b) at (983,318) {ArtM}; \node[cbox] (p14bb) at (983,326) {ArtQ};
\node[cbox] (p14c) at (1008,322) {ArtP}; \coordinate (p14e) at (1030,322);
\draw (p14o) -- (p14a.south west); \draw[carr] (p14c) -- (p14e);

\node[clab] (p15l) at (931,345) {Glutamate / Aspartate}; \node[cmet] (p15o) at (937,345) {};
\node[cbox] (p15a) at (958,345) {GltI}; \node[cbox] (p15b) at (983,341) {GltK}; \node[cbox] (p15bb) at (983,349) {GltJ};
\node[cbox] (p15c) at (1008,345) {GltL}; \coordinate (p15e) at (1030,345);
\draw (p15o) -- (p15a); \draw[carr] (p15c) -- (p15e);

\node[clab] (p16l) at (931,369) {Octopine / Nopaline}; \node[cmet] (p16o) at (937,369) {};
\node[cbox] (p16a) at (958,369) {OccT}; \node[cbox] (p16b) at (983,365) {OccM}; \node[cbox] (p16bb) at (983,373) {OccQ};
\node[cbox] (p16c) at (1008,369) {OccP}; \coordinate (p16e) at (1030,369);
\draw (p16o) -- (p16a); \draw[carr] (p16c) -- (p16e);

\node[clab] (p17l) at (931,393) {General L-Amino acid}; \node[cmet] (p17o) at (937,393) {};
\node[cbox] (p17a) at (958,393) {AapJ}; \node[cbox] (p17b) at (983,389) {AapQ}; \node[cbox] (p17bb) at (983,397) {AapM};
\node[cbox] (p17c) at (1008,393) {AapP}; \coordinate (p17e) at (1030,393);
\draw (p17o) -- (p17a); \draw[carr] (p17c) -- (p17e);

\node[clab] (p18l) at (931,415) {Glutamate}; \node[cmet] (p18o) at (937,415) {};
\node[cbox] (p18a) at (958,415) {GluB}; \node[cbox] (p18b) at (983,411) {GluC}; \node[cbox] (p18bb) at (983,419) {GluD};
\node[cbox] (p18c) at (1008,415) {GluA}; \coordinate (p18e) at (1030,415);
\draw (p18o) -- (p18a); \draw[carr] (p18c) -- (p18e);

% right column
\node[clab] (q1l) at (1122,216) {Cystine}; \node[cmet] (q1o) at (1128,216) {};
\node[chit] (q1a) at (1149.5,216) {FliY}; \node[chit] (q1b) at (1174.5,216) {YecS}; \node[cbox] (q1c) at (1199.5,216) {YecC};
\coordinate (q1e) at (1222,216);
\draw (q1o) -- (q1a); \draw[carr] (q1c) -- (q1e);

\node[clab] (q2l) at (1122,234) {Cystine}; \node[cmet] (q2o) at (1128,234) {};
\node[cbox] (q2a) at (1149.5,230) {TcyJ}; \node[cbox] (q2aa) at (1149.5,238) {TcyK};
\node[cbox] (q2b) at (1174.5,230) {TcyL}; \node[cbox] (q2bb) at (1174.5,238) {TcyM};
\node[cbox] (q2c) at (1199.5,234) {TcyN}; \coordinate (q2e) at (1222,234);
\draw (q2o) -- (q2a.south west); \draw[carr] (q2c) -- (q2e);

\node[clab] (q3l) at (1122,258) {Arginine / Ornithine}; \node[cmet] (q3o) at (1128,258) {};
\node[cbox] (q3a) at (1149.5,258) {AotJ}; \node[cbox] (q3b) at (1174.5,254) {AotM}; \node[cbox] (q3bb) at (1174.5,262) {AotQ};
\node[cbox] (q3c) at (1199.5,258) {AotP}; \coordinate (q3e) at (1222,258);
\draw (q3o) -- (q3a); \draw[carr] (q3c) -- (q3e);

\node[clab] (q4l) at (1122,279) {Arginine / Lysine /\\Histidine / Glutamine}; \node[cmet] (q4o) at (1128,279) {};
\node[cbox] (q4b) at (1174.5,279) {BgtB}; \node[cbox] (q4c) at (1199.5,279) {BgtA};
\coordinate (q4e) at (1222,279);
\draw (q4o) -- (q4b); \draw[carr] (q4c) -- (q4e);

\node[clab] (q5l) at (1122,293) {Lysine}; \node[cmet] (q5o) at (1128,293) {};
\node[chit] (q5a) at (1149.5,293) {LysX}; \node[chit] (q5b) at (1174.5,293) {LysX}; \node[chit] (q5c) at (1199.5,293) {LysY};
\coordinate (q5e) at (1222,293);
\draw (q5o) -- (q5a); \draw[carr] (q5c) -- (q5e);

\node[clab] (q6l) at (1122,312) {Branched-chain amino acid}; \node[cmet] (q6o) at (1128,312) {};
\node[chit] (q6a) at (1149.5,312) {LivK}; \node[chit] (q6b) at (1174.5,308) {LivH}; \node[chit] (q6bb) at (1174.5,316) {LivM};
\node[chit] (q6c) at (1199.5,308) {LivG}; \node[chit] (q6cc) at (1199.5,316) {LivF}; \coordinate (q6e) at (1222,312);
\draw (q6o) -- (q6a); \draw[carr] (q6c.south east) -- (q6e);

\node[clab] (q7l) at (1122,337) {Neutral amino acid / Histidine}; \node[cmet] (q7o) at (1128,337) {};
\node[cbox] (q7a) at (1149.5,337) {NatB}; \node[cbox] (q7b) at (1174.5,333) {NatC}; \node[cbox] (q7bb) at (1174.5,341) {NatD};
\node[cbox] (q7c) at (1199.5,333) {NatA}; \node[cbox] (q7cc) at (1199.5,341) {NatE}; \coordinate (q7e) at (1222,337);
\draw (q7o) -- (q7a); \draw[carr] (q7c.south east) -- (q7e);
\node[rstar] (sC2) at (q7bb.north west) {};

\node[clab] (q8l) at (1122,363) {Urea}; \node[cmet] (q8o) at (1128,363) {};
\node[cbox] (q8a) at (1149.5,363) {UrtA}; \node[cbox] (q8b) at (1174.5,359) {UrtB}; \node[cbox] (q8bb) at (1174.5,367) {UrtC};
\node[cbox] (q8c) at (1199.5,359) {UrtD}; \node[cbox] (q8cc) at (1199.5,367) {UrtE}; \coordinate (q8e) at (1222,363);
\draw (q8o) -- (q8a); \draw[carr] (q8c.south east) -- (q8e);

\node[clab] (q9l) at (1122,383) {D-Methionine}; \node[cmet] (q9o) at (1128,383) {};
\node[chit] (q9a) at (1149.5,383) {MetQ}; \node[chit] (q9b) at (1174.5,383) {MetI}; \node[chit] (q9c) at (1199.5,383) {MetN};
\coordinate (q9e) at (1222,383);
\draw (q9o) -- (q9a); \draw[carr] (q9c) -- (q9e);

\node[clab] (q10l) at (1122,397) {Amino acid}; \node[cmet] (q10o) at (1128,397) {};
\node[cbox] (q10a) at (1149.5,397) {YxeM}; \node[cbox] (q10b) at (1174.5,397) {YxeN}; \node[cbox] (q10c) at (1199.5,397) {YxeO};
\coordinate (q10e) at (1222,397);
\draw (q10o) -- (q10a); \draw[carr] (q10c) -- (q10e);
\node[rstar] (sC3) at (q10c.north west) {};

\end{tikzpicture}
\end{document}
